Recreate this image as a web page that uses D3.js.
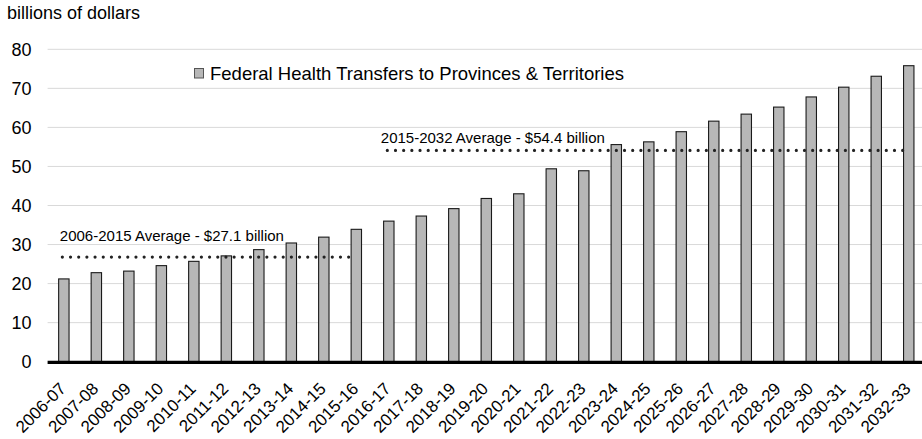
<!DOCTYPE html>
<html>
<head>
<meta charset="utf-8">
<script src="https://cdn.jsdelivr.net/npm/d3@7"></script>
<style>
  html, body { margin: 0; padding: 0; background: #fff; }
  svg { display: block; font-family: "Liberation Sans", Arial, sans-serif; }
</style>
</head>
<body>
<svg id="chart" width="922" height="439"></svg>
<script>
const categories = ["2006-07","2007-08","2008-09","2009-10","2010-11","2011-12","2012-13","2013-14","2014-15","2015-16","2016-17","2017-18","2018-19","2019-20","2020-21","2021-22","2022-23","2023-24","2024-25","2025-26","2026-27","2027-28","2028-29","2029-30","2030-31","2031-32","2032-33"];
const transfers = [21.2,22.8,23.2,24.6,25.7,27.1,28.7,30.4,31.9,33.9,36.0,37.3,39.2,41.8,43.0,49.4,48.9,55.6,56.3,58.9,61.6,63.4,65.2,67.8,70.3,73.1,75.8];
const seriesName = "Federal Health Transfers to Provinces & Territories";
const yTicks = [0,10,20,30,40,50,60,70,80];
const yUnitLabel = "billions of dollars";
const averageValues = [27.1, 54.4];
const averageLabels = ["2006-2015 Average - $27.1 billion", "2015-2032 Average - $54.4 billion"];
const averageStart = ["2006-07", "2016-17"];
const averageEnd = ["2015-16", "2032-33"];

const W = 922, H = 439;
const svg = d3.select("#chart");

const x = d3.scaleBand().domain(categories).range([47.6, 925]).paddingInner(0.68).paddingOuter(0.34);
const y = d3.scaleLinear().domain([0, 80]).range([361.7, 49.3]);
const cx = c => x(c) + x.bandwidth() / 2;
const gridLeft = 47.6, gridRight = W;

// unit label
svg.append("text").attr("x", 7).attr("y", 19).attr("font-size", 18).attr("fill", "#000").text(yUnitLabel);

// gridlines
svg.append("g").selectAll("line").data(yTicks.filter(t => t !== 0)).join("line")
  .attr("x1", gridLeft).attr("x2", gridRight)
  .attr("y1", d => y(d)).attr("y2", d => y(d))
  .attr("stroke", "#d9d9d9").attr("stroke-width", 1);

// y axis labels
const yAxis = d3.axisLeft(y).tickValues(yTicks).tickSize(0).tickPadding(0).tickFormat(d3.format("d"));
const gy = svg.append("g").attr("transform", "translate(31.5,0)").call(yAxis);
gy.select(".domain").remove();
gy.selectAll("text").attr("font-size", 18).attr("fill", "#000").attr("font-family", "Liberation Sans, Arial, sans-serif");

// bars
svg.append("g").selectAll("rect").data(transfers).join("rect")
  .attr("x", (d, i) => x(categories[i]))
  .attr("width", x.bandwidth())
  .attr("y", d => y(d))
  .attr("height", d => y(0) - y(d))
  .attr("fill", "#b7b7b7")
  .attr("stroke", "#1a1a1a")
  .attr("stroke-width", 1.1);

// zero axis line
svg.append("line").attr("x1", gridLeft).attr("x2", gridRight)
  .attr("y1", y(0) + 0.6).attr("y2", y(0) + 0.6)
  .attr("stroke", "#000").attr("stroke-width", 3.2);

// x labels
const xAxis = d3.axisBottom(x).tickSize(0).tickPadding(0);
const gx = svg.append("g").call(xAxis);
gx.select(".domain").remove();
gx.selectAll(".tick").attr("transform", null);
gx.selectAll(".tick text")
  .attr("font-size", 17)
  .attr("fill", "#000")
  .attr("font-family", "Liberation Sans, Arial, sans-serif")
  .attr("text-anchor", "end")
  .attr("dy", null)
  .attr("y", null)
  .attr("transform", d => `translate(${cx(d) + 3},${y(0) + 28}) rotate(-45)`);

// average lines
const avgG = svg.append("g");
averageValues.forEach((v, i) => {
  avgG.append("line")
    .attr("x1", cx(averageStart[i]) - 1.5).attr("x2", cx(averageEnd[i]))
    .attr("y1", y(v) + 1.2).attr("y2", y(v) + 1.2)
    .attr("stroke", "#222").attr("stroke-width", 3.2)
    .attr("stroke-linecap", "round").attr("stroke-dasharray", "0,8.18");
});
const labelOffsets = [[-4, -15], [-8, -6]];
averageValues.forEach((v, i) => {
  avgG.append("text")
    .attr("x", cx(averageStart[i]) + labelOffsets[i][0])
    .attr("y", y(v) + labelOffsets[i][1])
    .attr("font-size", 15).attr("fill", "#000")
    .text(averageLabels[i]);
});

// legend
const leg = svg.append("g");
leg.append("rect").attr("x", 194.5).attr("y", 68.5).attr("width", 9).attr("height", 9.5)
  .attr("fill", "#b7b7b7").attr("stroke", "#555").attr("stroke-width", 1);
leg.append("text").attr("x", 210).attr("y", 79.5).attr("font-size", 18.5).attr("fill", "#000").text(seriesName);
</script>
</body>
</html>
